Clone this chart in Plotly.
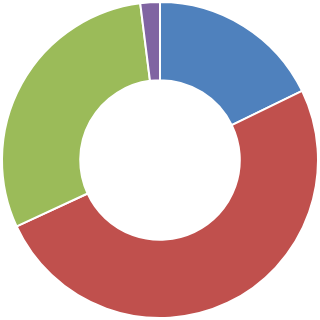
import plotly.graph_objects as go

labels = ["A", "B", "C", "D"]
values = [17.8, 50.3, 29.9, 2.0]
colors = ["#4F81BD", "#C0504D", "#9BBB59", "#8064A2"]

fig = go.Figure(go.Pie(
    labels=labels,
    values=values,
    hole=0.505,
    sort=False,
    direction="clockwise",
    rotation=0,
    textinfo="none",
    hoverinfo="label+value",
    marker=dict(colors=colors, line=dict(color="white", width=2)),
))
fig.update_layout(
    width=320, height=320,
    margin=dict(l=2, r=2, t=2, b=2),
    showlegend=False,
    paper_bgcolor="white",
    plot_bgcolor="white",
)
fig.write_html("out.html")
